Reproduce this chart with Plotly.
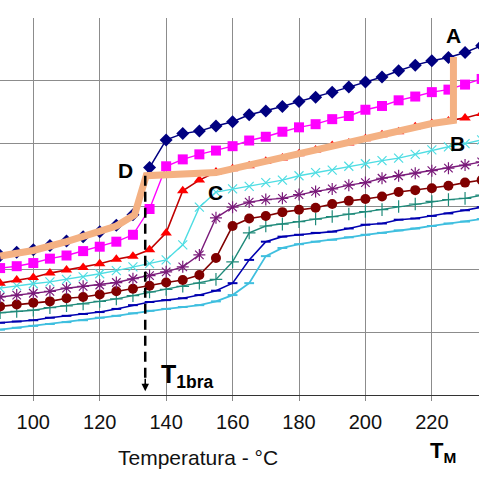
import plotly.graph_objects as go

# ---------------- data ----------------
TEMP = [90, 95, 100, 105, 110, 115, 120, 125, 130, 135, 140, 145, 150, 155, 160,
        165, 170, 175, 180, 185, 190, 195, 200, 205, 210, 215, 220, 225, 230, 235]

navy = [2.22, 2.27, 2.31, 2.38, 2.45, 2.52, 2.60, 2.70, 2.87, 3.62, 4.06, 4.16, 4.20, 4.28, 4.35,
        4.46, 4.52, 4.59, 4.67, 4.74, 4.82, 4.90, 4.98, 5.06, 5.16, 5.25, 5.32, 5.37, 5.45, 5.56]
magenta = [2.02, 2.05, 2.10, 2.17, 2.22, 2.29, 2.36, 2.44, 2.55, 2.96, 3.64, 3.75, 3.83, 3.89, 3.96,
           4.05, 4.11, 4.19, 4.26, 4.31, 4.39, 4.44, 4.54, 4.60, 4.69, 4.75, 4.82, 4.86, 4.94, 5.03]
red = [1.78, 1.83, 1.87, 1.94, 1.99, 2.03, 2.09, 2.16, 2.21, 2.31, 2.58, 3.25, 3.42, 3.55, 3.60,
       3.65, 3.72, 3.77, 3.84, 3.90, 3.97, 4.01, 4.08, 4.14, 4.19, 4.27, 4.32, 4.36, 4.41, 4.48]
cyan = [1.70, 1.74, 1.77, 1.80, 1.84, 1.88, 1.93, 1.98, 2.04, 2.09, 2.15, 2.39, 2.99, 3.23, 3.28,
        3.32, 3.38, 3.42, 3.49, 3.54, 3.58, 3.64, 3.68, 3.73, 3.77, 3.83, 3.90, 3.95, 4.00, 4.06]
purple = [1.56, 1.59, 1.62, 1.65, 1.70, 1.73, 1.75, 1.79, 1.85, 1.90, 1.96, 2.04, 2.23, 2.82, 2.99,
          3.07, 3.11, 3.13, 3.19, 3.24, 3.28, 3.34, 3.38, 3.45, 3.49, 3.53, 3.57, 3.61, 3.66, 3.71]
darkred = [1.41, 1.44, 1.47, 1.49, 1.54, 1.56, 1.60, 1.65, 1.69, 1.74, 1.79, 1.83, 1.91, 2.18, 2.69,
           2.81, 2.85, 2.91, 2.95, 2.98, 3.04, 3.09, 3.12, 3.16, 3.23, 3.26, 3.29, 3.33, 3.38, 3.42]
teal = [1.31, 1.33, 1.35, 1.39, 1.42, 1.45, 1.49, 1.53, 1.58, 1.64, 1.68, 1.73, 1.78, 1.84, 2.12,
        2.58, 2.69, 2.72, 2.76, 2.80, 2.84, 2.88, 2.92, 2.95, 3.00, 3.04, 3.08, 3.11, 3.13, 3.18]
blue = [1.15, 1.17, 1.19, 1.23, 1.26, 1.29, 1.32, 1.37, 1.43, 1.48, 1.51, 1.54, 1.59, 1.66, 1.78,
        2.15, 2.44, 2.52, 2.55, 2.58, 2.60, 2.65, 2.71, 2.73, 2.79, 2.81, 2.85, 2.89, 2.94, 2.99]
lightcyan = [1.04, 1.07, 1.10, 1.13, 1.16, 1.19, 1.23, 1.26, 1.30, 1.34, 1.37, 1.40, 1.43, 1.49, 1.59,
             1.78, 2.21, 2.34, 2.40, 2.44, 2.47, 2.51, 2.55, 2.58, 2.62, 2.65, 2.69, 2.73, 2.76, 2.80]

# envelope (thick peach line D -> B -> A)
ENV_T = [90, 100, 110, 120, 125, 130.5, 134, 155, 160, 170, 180, 190, 200, 210, 220, 226.5, 226.5]
ENV_Y = [2.21, 2.30, 2.44, 2.59, 2.69, 2.87, 3.49, 3.54, 3.60, 3.72, 3.84, 3.97, 4.08, 4.19, 4.32, 4.37, 5.38]

X_TICKS = [100, 120, 140, 160, 180, 200, 220]
X_TICK_LABELS = ["100", "120", "140", "160", "180", "200", "220"]
Y_GRID = [0, 1, 2, 3, 4, 5, 6]

T1BRA = 133.7
POINT_LABELS = [("A", 226.4, 5.72), ("B", 227.6, 4.00), ("C", 155.0, 3.23), ("D", 127.9, 3.58)]

FONT = "Liberation Sans, Arial, sans-serif"

# ---------------- figure ----------------
fig = go.Figure()

series = [
    (lightcyan, "#3FBFDF", "line-ew-open", 7, 2, 1.8),
    (blue, "#0000B0", "line-ew-open", 7, 2, 1.6),
    (teal, "#1F8A7A", "cross-thin-open", 9, 1.2, 1.4),
    (darkred, "#800000", "circle", 10, 0, 1.6),
    (purple, "#7A1A7A", "asterisk-open", 10, 1.2, 1.4),
    (cyan, "#4FDDE3", "x-thin-open", 9, 1.2, 1.4),
    (red, "#FF0000", "triangle-up", 10, 0, 1.6),
    (magenta, "#FF00FF", "square", 10, 0, 1.4),
    (navy, "#000080", "diamond", 10, 0, 1.5),
]

for ys, col, sym, size, mlw, lw in series:
    line_col = "#C00000" if col == "#FF0000" else col
    fig.add_trace(go.Scatter(
        x=TEMP, y=ys, mode="lines+markers",
        line=dict(color=line_col, width=lw),
        marker=dict(symbol=sym, size=size, color=col,
                    line=dict(color=col, width=mlw)),
        showlegend=False, hoverinfo="skip"))

fig.add_trace(go.Scatter(
    x=ENV_T, y=ENV_Y, mode="lines",
    line=dict(color="#F4B183", width=7),
    showlegend=False, hoverinfo="skip"))

# dashed T1bra line with arrow
fig.add_shape(type="line", x0=T1BRA, x1=T1BRA, y0=3.49, y1=0.16,
              line=dict(color="black", width=2.5, dash="10px,6px"))
fig.add_annotation(x=T1BRA, y=0.06, ax=0, ay=-14, axref="pixel", ayref="pixel",
                   showarrow=True, arrowhead=2, arrowsize=1, arrowwidth=1.5,
                   arrowcolor="black", text="")

for txt, xt, yt in POINT_LABELS:
    fig.add_annotation(x=xt, y=yt, text="<b>%s</b>" % txt, showarrow=False,
                       xanchor="center", yanchor="middle",
                       font=dict(family=FONT, size=21, color="black"))

fig.add_annotation(x=146.5, y=0.30, text="<b>T<sub>1bra</sub></b>", showarrow=False,
                   xanchor="center", yanchor="middle",
                   font=dict(family=FONT, size=25, color="black"))
fig.add_annotation(x=223.4, y=-0.151, yref="paper", text="<b>T<sub>M</sub></b>", showarrow=False,
                   xanchor="center", yanchor="middle",
                   font=dict(family=FONT, size=22, color="black"))
fig.add_annotation(x=149.5, y=-0.167, yref="paper", text="Temperatura - °C", showarrow=False,
                   xanchor="center", yanchor="middle",
                   font=dict(family=FONT, size=21, color="#111"))

fig.update_xaxes(range=[89.97, 234.2], tickmode="array", tickvals=X_TICKS, ticktext=X_TICK_LABELS,
                 ticks="outside", ticklen=5, tickcolor="#888", ticklabelstandoff=4,
                 showgrid=True, gridcolor="#8c8c8c", gridwidth=1,
                 showline=True, linecolor="#333", linewidth=1, zeroline=False,
                 tickfont=dict(family=FONT, size=20, color="#111"))
fig.update_yaxes(range=[0, 6.0], tickmode="array", tickvals=Y_GRID, showticklabels=False,
                 showgrid=True, gridcolor="#8c8c8c", gridwidth=1,
                 zeroline=False, showline=False, ticks="")

fig.update_layout(width=479, height=479, margin=dict(l=0, r=0, t=18, b=84),
                  paper_bgcolor="white", plot_bgcolor="white", showlegend=False)

fig.write_html("out.html", config={"displayModeBar": False},
               post_script="document.body.style.margin='0px';")
